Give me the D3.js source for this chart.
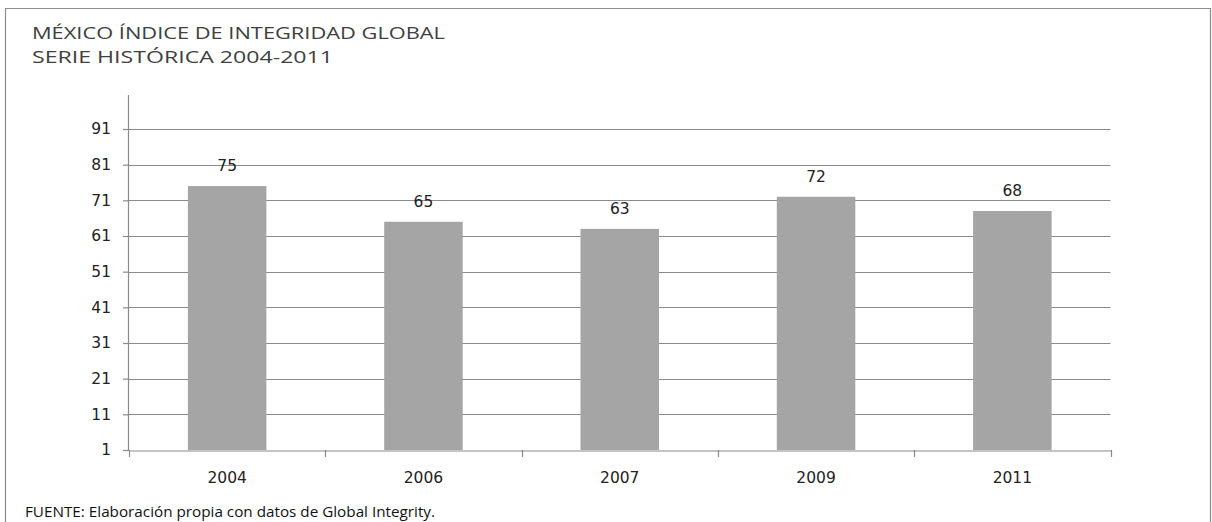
<!DOCTYPE html>
<html><head><meta charset="utf-8">
<script src="https://cdn.jsdelivr.net/npm/d3@7"></script>
<style>body{margin:0;background:#fff}svg{display:block}</style>
</head><body>
<svg id="c" width="1212" height="522"></svg>
<script>
const titleLines = ["MÉXICO ÍNDICE DE INTEGRIDAD GLOBAL", "SERIE HISTÓRICA 2004-2011"];
const footnote = "FUENTE: Elaboración propia con datos de Global Integrity.";
const categories = ["2004", "2006", "2007", "2009", "2011"];
const values = [75, 65, 63, 72, 68];
const yTicks = [1, 11, 21, 31, 41, 51, 61, 71, 81, 91];

const svg = d3.select("#c");
const left = 129, right = 1110.5, bottom = 450, top91 = 129;

// outer frame
svg.append("path").attr("d", "M5.5,522 V8.5 H1210.5 V522")
  .attr("fill", "none").attr("stroke", "#8c8c8c").attr("stroke-width", 1.2);

const x = d3.scaleBand().domain(categories).range([left, right]).padding(0);
const y = d3.scaleLinear().domain([1, 91]).range([bottom, top91]);

// gridlines
svg.append("g").selectAll("line").data(yTicks.slice(1)).join("line")
  .attr("x1", left).attr("x2", right)
  .attr("y1", d => Math.round(y(d)) + 0.5).attr("y2", d => Math.round(y(d)) + 0.5)
  .attr("stroke", "#8a8a8a").attr("stroke-width", 1.2);

// bars
const bw = x.bandwidth() * 0.4;
svg.append("g").selectAll("rect").data(values).join("rect")
  .attr("x", (d, i) => x(categories[i]) + (x.bandwidth() - bw) / 2)
  .attr("width", bw)
  .attr("y", d => y(d))
  .attr("height", d => y(1) - y(d))
  .attr("fill", "#a5a5a5");

// y axis
const yAxis = d3.axisLeft(y).tickValues(yTicks).tickSize(6).tickPadding(12).tickFormat(d3.format("d"));
const gy = svg.append("g").attr("transform", `translate(${left},0)`).call(yAxis);
gy.select(".domain").attr("d", `M-0.5,${y(100.5)} V${bottom}`).attr("stroke", "#8a8a8a").attr("stroke-width", 1.2);
gy.selectAll(".tick line").attr("stroke", "#8a8a8a").attr("stroke-width", 1.2);
gy.selectAll(".tick text").attr("font-family", "DejaVu Sans").attr("font-size", 15.5).attr("fill", "#222");

// x axis
const xAxis = d3.axisBottom(x).tickSize(0).tickPadding(0);
const gx = svg.append("g").attr("transform", `translate(0,${bottom + 0.5})`).call(xAxis);
gx.select(".domain").attr("stroke", "#8a8a8a").attr("stroke-width", 1.2);
gx.selectAll(".tick text").attr("font-family", "DejaVu Sans").attr("font-size", 15.5).attr("fill", "#222")
  .attr("dy", null).attr("y", 32);
// boundary tick marks
const bounds = categories.map(c => x(c)).concat([right]);
svg.append("g").selectAll("line").data(bounds).join("line")
  .attr("x1", d => Math.round(d) + 0.5).attr("x2", d => Math.round(d) + 0.5)
  .attr("y1", bottom).attr("y2", bottom + 7)
  .attr("stroke", "#8a8a8a").attr("stroke-width", 1.2);

// value labels
svg.append("g").selectAll("text").data(values).join("text")
  .attr("x", (d, i) => x(categories[i]) + x.bandwidth() / 2)
  .attr("y", d => y(d) - 15)
  .attr("text-anchor", "middle")
  .attr("font-family", "DejaVu Sans").attr("font-size", 15.5).attr("fill", "#222")
  .text(d => d);

// title
svg.append("g").selectAll("text").data(titleLines).join("text")
  .attr("x", 32).attr("y", (d, i) => 39 + i * 23.5)
  .attr("font-family", "Open Sans").attr("font-size", 16.5).attr("fill", "#404040")
  .attr("textLength", (d, i) => i === 0 ? 413 : 301).attr("lengthAdjust", "spacingAndGlyphs")
  .text(d => d);

// footnote
svg.append("text").attr("x", 25).attr("y", 517)
  .attr("font-family", "Open Sans").attr("font-size", 14).attr("fill", "#111")
  .attr("textLength", 410).attr("lengthAdjust", "spacingAndGlyphs")
  .text(footnote);
</script>
</body></html>
